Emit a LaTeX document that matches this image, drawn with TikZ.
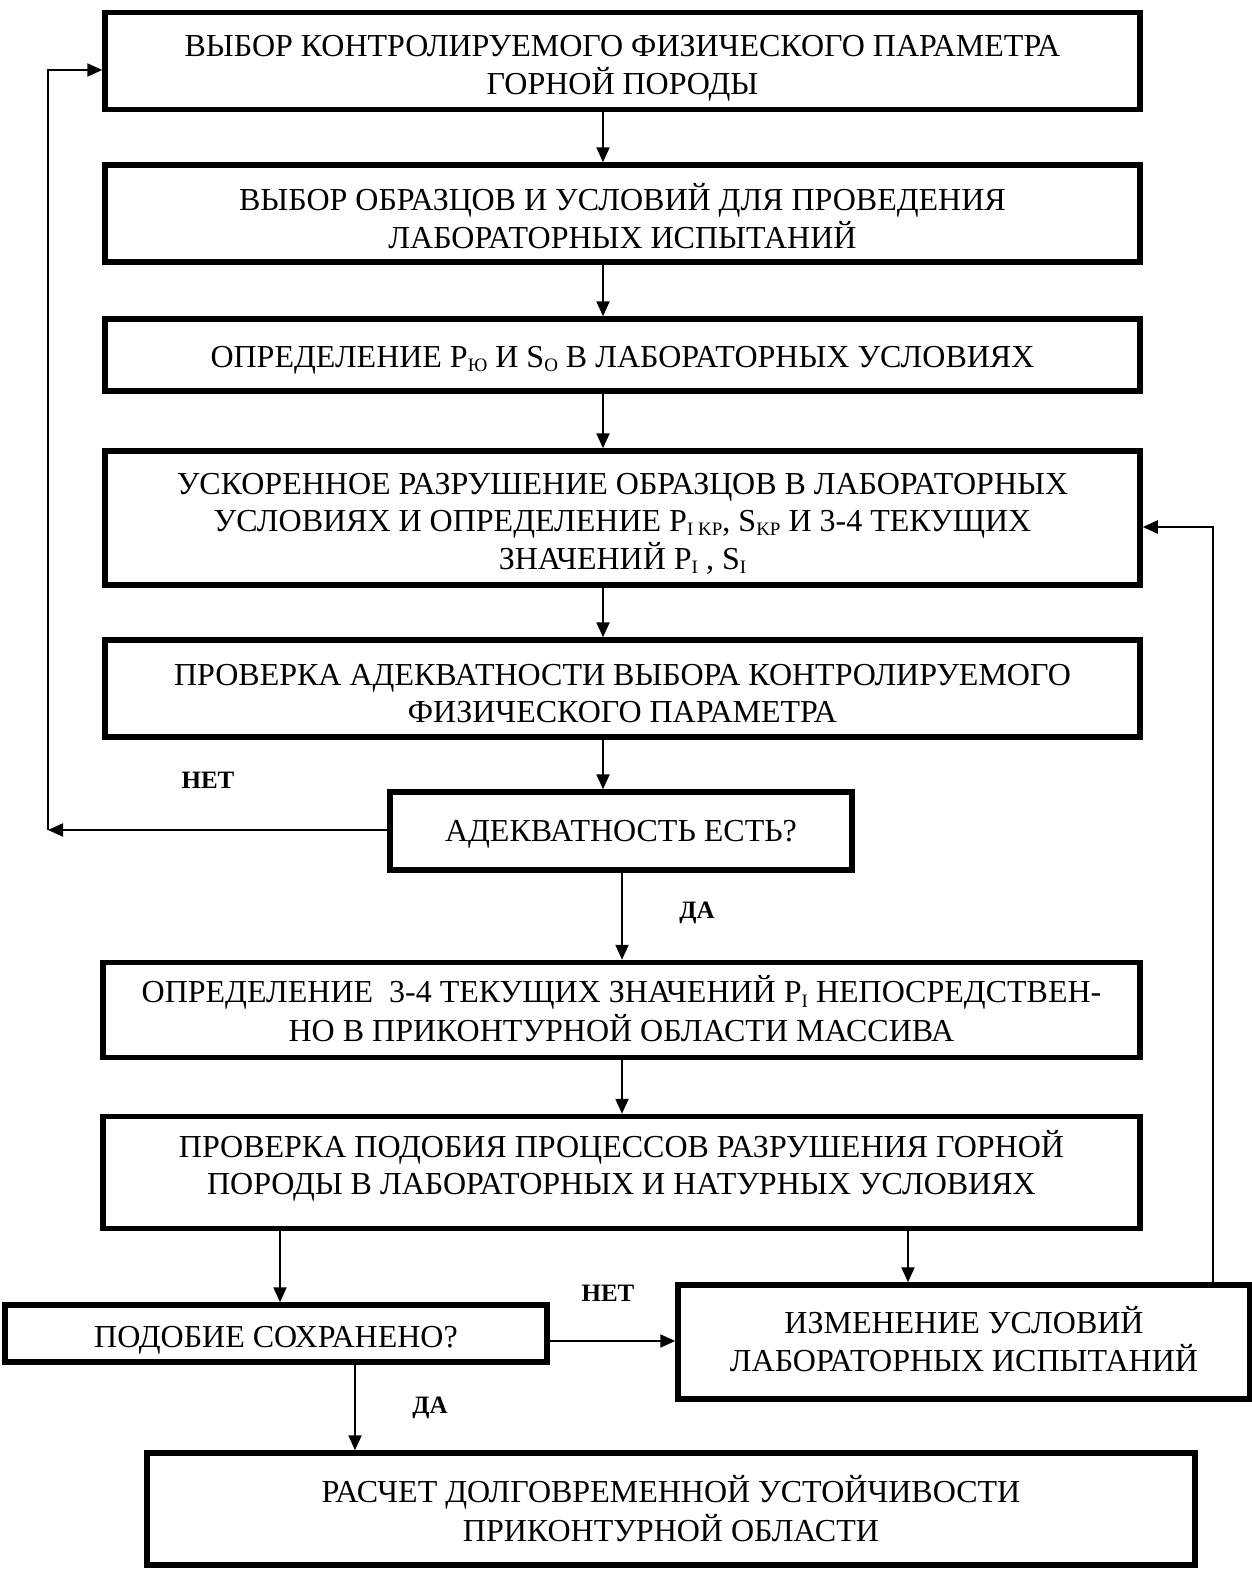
\documentclass[tikz,border=0pt]{standalone}
\usepackage{fontspec}
\setmainfont{Liberation Serif}
\usetikzlibrary{arrows.meta,positioning}
\newcommand{\sbs}[1]{\raisebox{-0.3ex}{\fontsize{19}{19}\selectfont #1}}
\newcommand{\tx}[2][0]{\smash{\raisebox{\dimexpr-11.2pt-(#1pt)\relax}{\begin{tabular}{@{}c@{}}#2\end{tabular}}}}
\begin{document}
\begin{tikzpicture}[x=1pt,y=-1pt,
  box/.style={draw,line width=5.5pt,rectangle,inner sep=0pt,
    font=\fontsize{32}{37}\selectfont},
  arr/.style={line width=2.2pt,-{Triangle[length=15pt,width=13pt]}},
  lbl/.style={font=\fontsize{25}{25}\selectfont\bfseries,inner sep=0pt}]
\useasboundingbox (0,0) rectangle (1252,1569);
\node[box,minimum width=1035,minimum height=97] (b1) at (622.5,61)
  {\tx[2]{ВЫБОР КОНТРОЛИРУЕМОГО ФИЗИЧЕСКОГО ПАРАМЕТРА\\ГОРНОЙ ПОРОДЫ}};
\node[box,minimum width=1035,minimum height=97] (b2) at (622.5,213.5)
  {\tx[3]{ВЫБОР ОБРАЗЦОВ И УСЛОВИЙ ДЛЯ ПРОВЕДЕНИЯ\\ЛАБОРАТОРНЫХ ИСПЫТАНИЙ}};
\node[box,minimum width=1035,minimum height=72] (b3) at (622.5,355)
  {\tx[0]{ОПРЕДЕЛЕНИЕ P\sbs{Ю} И S\sbs{O} В ЛАБОРАТОРНЫХ УСЛОВИЯХ}};
\node[box,minimum width=1035,minimum height=134] (b4) at (622.5,518)
  {\tx[1.5]{УСКОРЕННОЕ РАЗРУШЕНИЕ ОБРАЗЦОВ В ЛАБОРАТОРНЫХ\\УСЛОВИЯХ И ОПРЕДЕЛЕНИЕ P\sbs{I KP}, S\sbs{KP} И 3-4 ТЕКУЩИХ\\ЗНАЧЕНИЙ P\sbs{I} , S\sbs{I}}};
\node[box,minimum width=1035,minimum height=97] (b5) at (622.5,688.5)
  {\tx[3]{ПРОВЕРКА АДЕКВАТНОСТИ ВЫБОРА КОНТРОЛИРУЕМОГО\\ФИЗИЧЕСКОГО ПАРАМЕТРА}};
\node[box,minimum width=462,minimum height=78] (d1) at (621,831)
  {\tx[-2]{АДЕКВАТНОСТЬ ЕСТЬ?}};
\node[box,minimum width=1037,minimum height=95] (b7) at (621.5,1010)
  {\tx[-1]{ОПРЕДЕЛЕНИЕ\ \ 3-4 ТЕКУЩИХ ЗНАЧЕНИЙ P\sbs{I} НЕПОСРЕДСТВЕН-\\НО В ПРИКОНТУРНОЙ ОБЛАСТИ МАССИВА}};
\node[box,minimum width=1037,minimum height=112] (b8) at (621.5,1172.5)
  {\tx[-10]{ПРОВЕРКА ПОДОБИЯ ПРОЦЕССОВ РАЗРУШЕНИЯ ГОРНОЙ\\ПОРОДЫ В ЛАБОРАТОРНЫХ И НАТУРНЫХ УСЛОВИЯХ}};
\node[box,minimum width=542,minimum height=57] (d2) at (276,1333.5)
  {\tx[2]{ПОДОБИЕ СОХРАНЕНО?}};
\node[box,minimum width=572,minimum height=114] (ch) at (964,1342)
  {\tx[-2.5]{ИЗМЕНЕНИЕ УСЛОВИЙ\\ЛАБОРАТОРНЫХ ИСПЫТАНИЙ}};
\node[box,minimum width=1048,minimum height=112] (fin) at (671,1509)
  {\tx[0]{РАСЧЕТ ДОЛГОВРЕМЕННОЙ УСТОЙЧИВОСТИ\\ПРИКОНТУРНОЙ ОБЛАСТИ}};
% labels
\node[lbl] (l1) at (208,780) {НЕТ};
\node[lbl] (l2) at (697,913) {ДА};
\node[lbl] (l3) at (608,1293) {НЕТ};
\node[lbl] (l4) at (430,1408) {ДА};
% guide coordinates
\coordinate (xa) at (603,0);
\coordinate (xb) at (622,0);
\coordinate (xc) at (280,0);
\coordinate (xd) at (908,0);
\coordinate (xe) at (355,0);
\coordinate (ya) at (0,1341);
\coordinate (fb1) at (48,830);
\coordinate (fb2) at (48,70);
\coordinate (rb1) at (1213,527);
% connectors
\draw[arr] (b1.south -| xa) -- (b2.north -| xa);
\draw[arr] (b2.south -| xa) -- (b3.north -| xa);
\draw[arr] (b3.south -| xa) -- (b4.north -| xa);
\draw[arr] (b4.south -| xa) -- (b5.north -| xa);
\draw[arr] (b5.south -| xa) -- (d1.north -| xa);
\draw[arr] (d1.south -| xb) -- (b7.north -| xb);
\draw[arr] (b7.south -| xb) -- (b8.north -| xb);
\draw[arr] (b8.south -| xc) -- (d2.north -| xc);
\draw[arr] (b8.south -| xd) -- (ch.north -| xd);
\draw[arr] (d2.east |- ya) -- (ch.west |- ya);
\draw[arr] (d2.south -| xe) -- (fin.north -| xe);
\draw[arr] (d1.west |- fb1) -- (fb1);
\draw[arr] (fb1) -- (fb2) -- (fb2 -| b1.west);
\draw[arr] (ch.north -| rb1) |- (b4.east |- rb1);
\end{tikzpicture}
\end{document}
